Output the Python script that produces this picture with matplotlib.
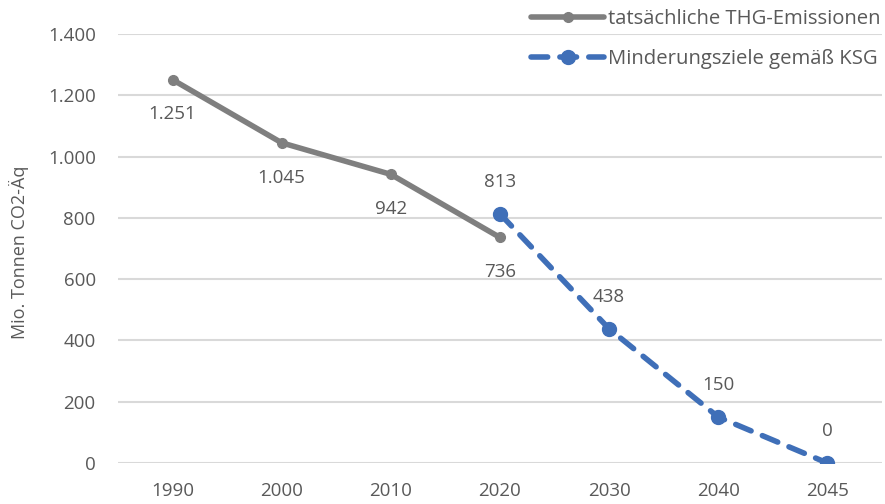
import matplotlib.pyplot as plt

plt.rcParams['font.family'] = ['Open Sans', 'DejaVu Sans']

# Daten
jahre = ['1990', '2000', '2010', '2020', '2030', '2040', '2045']
ist_werte = [1251, 1045, 942, 736]
ziel_werte = [813, 438, 150, 0]
ist_idx = [0, 1, 2, 3]
ziel_idx = [3, 4, 5, 6]

grau = '#7f7f7f'
blau = '#3f6fb8'
textfarbe = '#595959'


def fmt(v):
    return f'{v:,}'.replace(',', '.')


fig = plt.figure(figsize=(8.85, 5.04), dpi=100)
ax = fig.add_axes([0.1333, 0.0813, 0.8633, 0.8512])

ax.plot(ist_idx, ist_werte, color=grau, lw=4, marker='o', ms=7,
        solid_capstyle='round', label='tatsächliche THG-Emissionen', zorder=3)
ax.plot(ziel_idx, ziel_werte, color=blau, lw=4, ls=(0, (3, 2.2)), marker='o', ms=10,
        dash_capstyle='round', label='Minderungsziele gemäß KSG', zorder=4)

for i, v in zip(ist_idx, ist_werte):
    ax.annotate(fmt(v), (i, v), xytext=(0, -25), textcoords='offset points',
                ha='center', va='center', fontsize=13.5, color=textfarbe)
for i, v in zip(ziel_idx, ziel_werte):
    ax.annotate(fmt(v), (i, v), xytext=(0, 23), textcoords='offset points',
                ha='center', va='center', fontsize=13.5, color=textfarbe)

ax.set_xlim(-0.5, 6.5)
ax.set_ylim(0, 1400)
ax.set_xticks(range(len(jahre)))
ax.set_xticklabels(jahre)
ax.set_yticks(range(0, 1401, 200))
ax.set_yticklabels([fmt(v) for v in range(0, 1401, 200)])
ax.tick_params(length=0, labelsize=13.5, labelcolor=textfarbe)
ax.tick_params(axis='y', pad=16)
ax.tick_params(axis='x', pad=14)
ax.grid(axis='y', color='#d9d9d9', lw=1.5)
ax.set_axisbelow(True)
for s in ax.spines.values():
    s.set_visible(False)

ax.set_ylabel('Mio. Tonnen CO2-Äq', fontsize=13, color=textfarbe)
ax.yaxis.set_label_coords(0.033, 0.5, transform=fig.transFigure)

ax.legend(loc='upper right', bbox_to_anchor=(1.0, 0.99), bbox_transform=fig.transFigure,
          frameon=False, fontsize=14.6, labelcolor=textfarbe, handlelength=3.6,
          handletextpad=0.2, labelspacing=1.0, borderaxespad=0.1, borderpad=0.1)

fig.savefig('out.png', dpi=100)
